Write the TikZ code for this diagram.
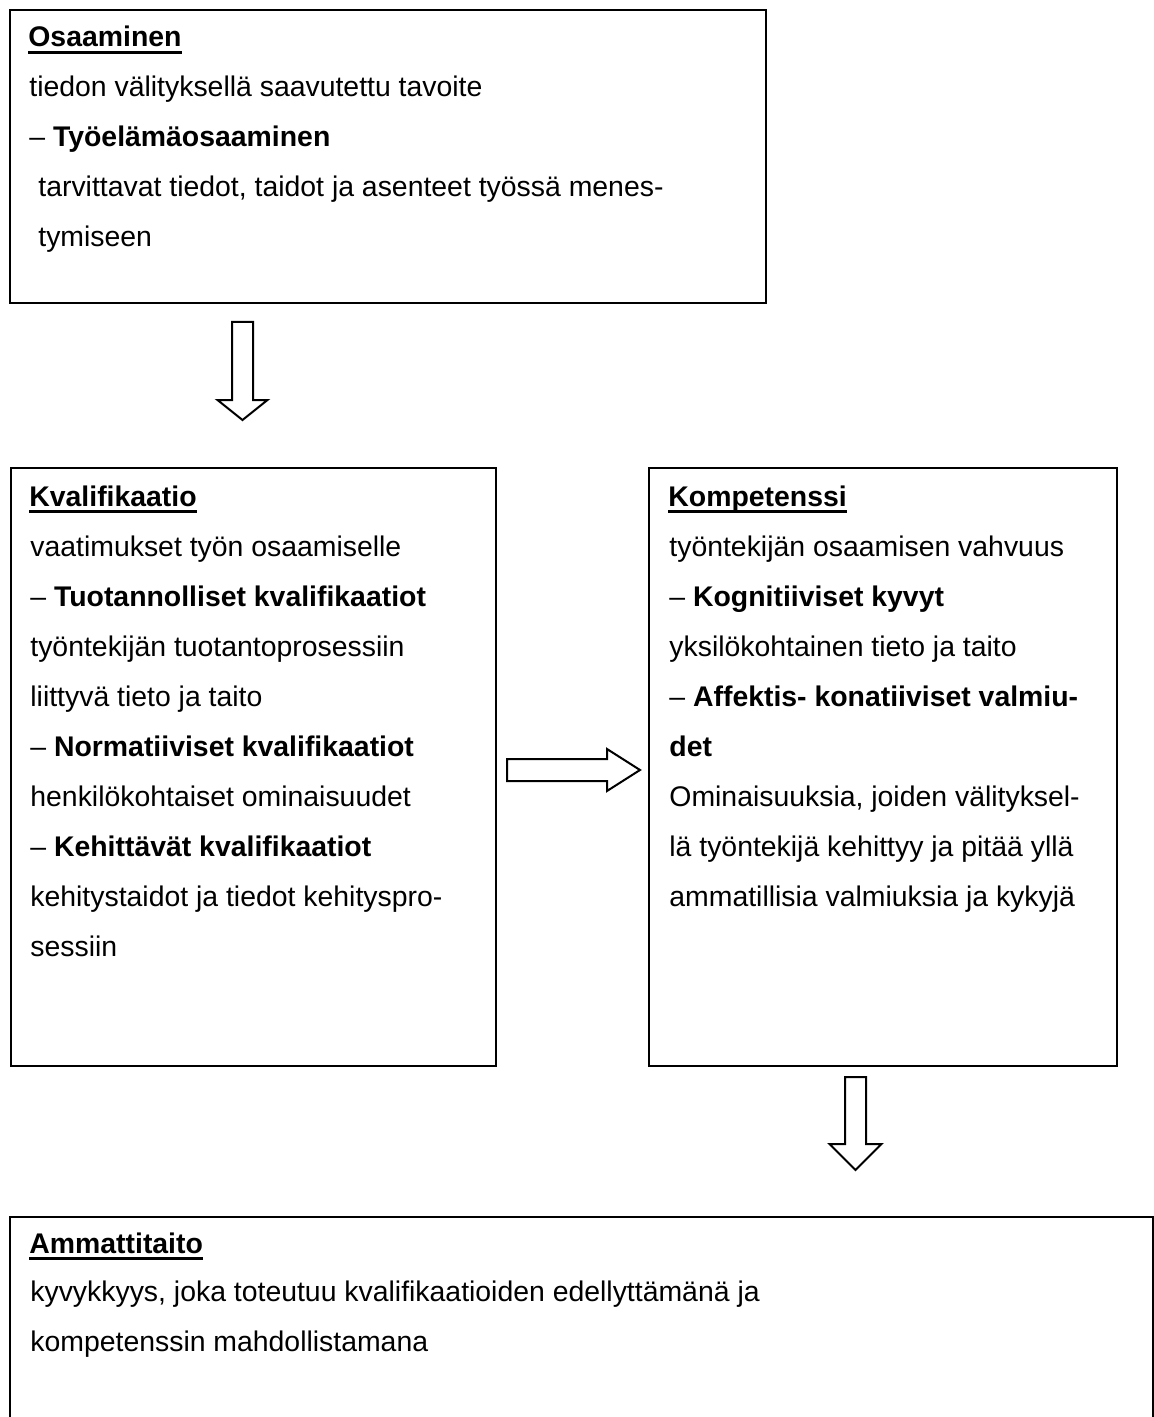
\documentclass[tikz,border=0pt]{standalone}
\usepackage{fontspec}
\setmainfont{Liberation Sans}
\begin{document}
\begin{tikzpicture}[x=0.5pt,y=-0.5pt,
  box/.style={draw=black, line width=1.2pt, anchor=north west, inner sep=0pt},
  txt/.style={anchor=base west, inner sep=0pt, font=\fontsize{14.2pt}{17pt}\selectfont},
  hd/.style={txt, font=\fontsize{14.2pt}{17pt}\selectfont\bfseries},
  uline/.style={line width=1.4pt},
  blockarrow/.style={draw=black, line width=1pt, fill=white, line join=miter}]
\useasboundingbox (0,0) rectangle (1154,1417);
\clip (0,0) rectangle (1154,1417);

% boxes
\node[box, minimum width=378pt, minimum height=146.5pt] (osa) at (9,9) {};
\node[box, minimum width=242.5pt, minimum height=299pt] (kva) at (10,467) {};
\node[box, minimum width=234pt, minimum height=299pt] (kom) at (648,467) {};
\node[box, minimum width=571.5pt, minimum height=112pt] (amm) at (9,1216) {};

% box 1 text
\node[hd] (h1) at (28,47) {Osaaminen};
\draw[uline] ([yshift=-2.6pt]h1.base west) -- ([yshift=-2.6pt]h1.base east);
\node[txt] (t1a) at (29,97) {tiedon välityksellä saavutettu tavoite};
\node[txt] (t1b) at (29,147) {– \textbf{Työelämäosaaminen}};
\node[txt] (t1c) at (38,197) {tarvittavat tiedot, taidot ja asenteet työssä menes-};
\node[txt] (t1d) at (38,247) {tymiseen};

% box 2 text
\node[hd] (h2) at (29,506) {Kvalifikaatio};
\draw[uline] ([yshift=-2.8pt]h2.base west) -- ([yshift=-2.8pt]h2.base east);
\node[txt] (t2a) at (30,556) {vaatimukset työn osaamiselle};
\node[txt] (t2b) at (30,606) {– \textbf{Tuotannolliset kvalifikaatiot}};
\node[txt] (t2c) at (30,656) {työntekijän tuotantoprosessiin};
\node[txt] (t2d) at (30,706) {liittyvä tieto ja taito};
\node[txt] (t2e) at (30,756) {– \textbf{Normatiiviset kvalifikaatiot}};
\node[txt] (t2f) at (30,806) {henkilökohtaiset ominaisuudet};
\node[txt] (t2g) at (30,856) {– \textbf{Kehittävät kvalifikaatiot}};
\node[txt] (t2h) at (30,906) {kehitystaidot ja tiedot kehityspro-};
\node[txt] (t2i) at (30,956) {sessiin};

% box 3 text
\node[hd] (h3) at (668,506) {Kompetenssi};
\draw[uline] ([yshift=-2.8pt]h3.base west) -- ([yshift=-2.8pt]h3.base east);
\node[txt] (t3a) at (669,556) {työntekijän osaamisen vahvuus};
\node[txt] (t3b) at (669,606) {– \textbf{Kognitiiviset kyvyt}};
\node[txt] (t3c) at (669,656) {yksilökohtainen tieto ja taito};
\node[txt] (t3d) at (669,706) {– \textbf{Affektis- konatiiviset valmiu-}};
\node[txt] (t3e) at (669,756) {\textbf{det}};
\node[txt] (t3f) at (669,806) {Ominaisuuksia, joiden välityksel-};
\node[txt] (t3g) at (669,856) {lä työntekijä kehittyy ja pitää yllä};
\node[txt] (t3h) at (669,906) {ammatillisia valmiuksia ja kykyjä};

% box 4 text
\node[hd] (h4) at (29,1253) {Ammattitaito};
\draw[uline] ([yshift=-2.6pt]h4.base west) -- ([yshift=-2.6pt]h4.base east);
\node[txt] (t4a) at (30,1301) {kyvykkyys, joka toteutuu kvalifikaatioiden edellyttämänä ja};
\node[txt] (t4b) at (30,1351) {kompetenssin mahdollistamana};

% block arrows
\coordinate (a1s) at (242.5,322);
\coordinate (a1t) at (242.5,420);
\draw[blockarrow] ([xshift=-5.25pt]a1s) -- ([xshift=5.25pt]a1s)
  -- ([xshift=5.25pt]a1s |- 0,400) -- (267.5,400) -- (a1t) -- (217.5,400)
  -- ([xshift=-5.25pt]a1s |- 0,400) -- cycle;

\coordinate (a2s) at (507,770);
\coordinate (a2t) at (640,770);
\draw[blockarrow] ([yshift=5.5pt]a2s) -- (607,759) -- (607,749) -- (a2t)
  -- (607,791) -- (607,781) -- ([yshift=-5.5pt]a2s) -- cycle;

\coordinate (a3s) at (855.5,1077);
\coordinate (a3t) at (855.5,1170);
\draw[blockarrow] ([xshift=-5.25pt]a3s) -- ([xshift=5.25pt]a3s)
  -- (866,1144) -- (881.5,1144) -- (a3t) -- (829.5,1144)
  -- (845,1144) -- cycle;
\end{tikzpicture}
\end{document}
